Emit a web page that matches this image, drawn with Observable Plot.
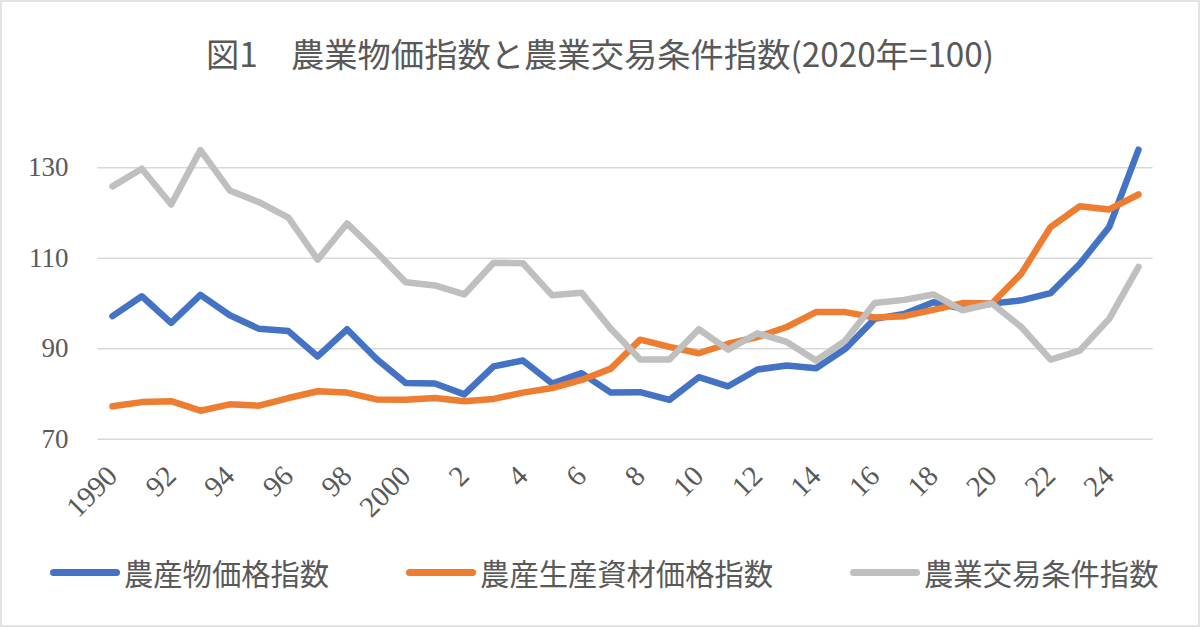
<!DOCTYPE html>
<html><head><meta charset="utf-8">
<script src="https://cdn.jsdelivr.net/npm/d3@7"></script>
<script src="https://cdn.jsdelivr.net/npm/@observablehq/plot@0.6"></script>
<style>
body{margin:0;background:#fff;}
#wrap{position:relative;width:1200px;height:627px;overflow:hidden;background:#fff;font-family:"Noto Sans CJK JP",sans-serif;color:#595959;}
#frame{position:absolute;left:0;top:0;width:1200px;height:627px;box-sizing:border-box;border:2px solid #e3e3e3;pointer-events:none;}
#title{position:absolute;left:0;top:0;width:1200px;height:104px;display:flex;align-items:center;justify-content:center;font-size:33.3px;white-space:pre;}
#chart{position:absolute;left:0;top:100px;}
#legend{position:absolute;left:50px;top:540px;height:64px;display:flex;align-items:center;gap:77px;font-size:29.3px;white-space:nowrap;}
.item{display:flex;align-items:center;}
.sw{width:70px;height:7px;border-radius:4px;margin-right:4px;}
</style>
</head><body>
<div id="wrap">
  <div id="title"></div>
  <div id="chart"></div>
  <div id="legend"></div>
  <div id="frame"></div>
</div>
<script>
const titleText = "図1　農業物価指数と農業交易条件指数(2020年=100)";
const years = [1990,1991,1992,1993,1994,1995,1996,1997,1998,1999,
               2000,2001,2002,2003,2004,2005,2006,2007,2008,2009,
               2010,2011,2012,2013,2014,2015,2016,2017,2018,2019,
               2020,2021,2022,2023,2024,2025];
const tickYears  = [1990,1992,1994,1996,1998,2000,2002,2004,2006,2008,2010,2012,2014,2016,2018,2020,2022,2024];
const tickLabels = ["1990","92","94","96","98","2000","2","4","6","8","10","12","14","16","18","20","22","24"];
const yTicks = [70,90,110,130];

const seriesNames  = ["農産物価格指数","農産生産資材価格指数","農業交易条件指数"];
const seriesColors = ["#4472C4","#ED7D31","#BFBFBF"];

const cropPrice = [97.2,101.6,95.7,101.9,97.4,94.4,93.9,88.3,94.3,87.8,
                   82.4,82.3,79.9,86.1,87.4,82.3,84.6,80.3,80.4,78.7,
                   83.7,81.7,85.4,86.3,85.7,90.0,96.6,97.7,100.3,98.8,
                   100.0,100.7,102.3,108.8,116.9,134.0];
const inputPrice = [77.3,78.2,78.4,76.3,77.7,77.4,79.1,80.6,80.3,78.8,
                    78.7,79.1,78.4,78.9,80.3,81.3,83.1,85.6,92.0,90.4,
                    89.0,91.1,92.6,94.8,98.1,98.1,96.9,97.2,98.6,100.1,
                    100.0,106.6,116.9,121.5,120.8,124.1];
const termsOfTrade = [125.9,129.8,121.9,133.9,125.0,122.4,119.0,109.7,117.7,111.4,
                      104.7,104.0,102.0,109.0,108.9,101.8,102.4,94.4,87.6,87.6,
                      94.3,89.8,93.4,91.5,87.4,91.8,100.1,100.8,102.0,98.5,
                      100.0,94.8,87.6,89.6,96.6,108.1];

const seriesValues = [cropPrice, inputPrice, termsOfTrade];
const rows = [];
seriesNames.forEach((name, s) => years.forEach((yr, i) => rows.push({year: yr, value: seriesValues[s][i], name})));
const labelMap = new Map(tickYears.map((y, i) => [y, tickLabels[i]]));

document.getElementById("title").textContent = titleText;

const chart = Plot.plot({
  width: 1200,
  height: 430,
  marginLeft: 112,
  marginRight: 62,
  marginTop: 67.3,
  marginBottom: 91.3,
  x: {type: "linear", domain: [1990, 2025]},
  y: {domain: [70, 130]},
  color: {domain: seriesNames, range: seriesColors},
  style: {fontFamily: "'Liberation Serif', 'DejaVu Serif', serif", color: "#595959", background: "transparent", overflow: "visible"},
  marks: [
    Plot.ruleY(yTicks, {x1: 1989.5, x2: 2025.5, stroke: "#d9d9d9", strokeWidth: 1.5}),
    Plot.axisY({ticks: yTicks, tickSize: 0, tickPadding: 44, fontSize: 27, fill: "#595959", label: null}),
    Plot.axisX({ticks: tickYears, tickFormat: d => labelMap.get(d), tickRotate: -45, tickSize: 0, tickPadding: 32, fontSize: 29, fill: "#595959", label: null}),
    Plot.line(rows, {x: "year", y: "value", z: "name", stroke: "name", strokeWidth: 6.5, strokeLinecap: "round", strokeLinejoin: "round"})
  ]
});
document.getElementById("chart").appendChild(chart);

const legend = document.getElementById("legend");
seriesNames.forEach((name, i) => {
  const item = document.createElement("div");
  item.className = "item";
  const sw = document.createElement("span");
  sw.className = "sw";
  sw.style.background = seriesColors[i];
  const tx = document.createElement("span");
  tx.textContent = name;
  item.appendChild(sw);
  item.appendChild(tx);
  legend.appendChild(item);
});
</script>
</body></html>
